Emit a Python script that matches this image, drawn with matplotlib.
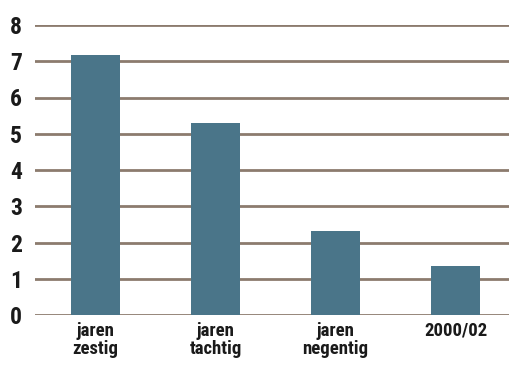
import matplotlib.pyplot as plt

categories = ['jaren\nzestig', 'jaren\ntachtig', 'jaren\nnegentig', '2000/02']
values = [7.17, 5.30, 2.32, 1.35]
y_ticks = [0, 1, 2, 3, 4, 5, 6, 7, 8]

plt.rcParams['font.family'] = ['Roboto Condensed', 'DejaVu Sans']


def main():
    fig = plt.figure(figsize=(5.09, 3.69), dpi=100)
    ax = fig.add_axes([35 / 509, 54 / 369, 1 - 35 / 509, 290 / 369])

    x = list(range(len(categories)))
    ax.bar(x, values, width=0.41, color='#4a7589', zorder=3)

    for t in y_ticks:
        ax.axhline(t, color='#8c7b6e', lw=2.0, zorder=1)

    ax.set_xlim(-0.505, 3.445)
    ax.set_ylim(0, 8)
    ax.set_yticks(y_ticks)
    ax.set_xticks(x)
    ax.set_xticklabels(categories, fontsize=13.5, fontweight='bold', color='#1a1a1a',
                       linespacing=1.0)
    ax.set_yticklabels([str(t) for t in y_ticks], fontsize=17, fontweight='bold',
                       color='#1a1a1a')
    ax.tick_params(length=0, axis='y', pad=9.5)
    ax.tick_params(length=0, axis='x', pad=5)
    for s in ax.spines.values():
        s.set_visible(False)

    fig.savefig('out.png', dpi=100)


if __name__ == '__main__':
    main()
